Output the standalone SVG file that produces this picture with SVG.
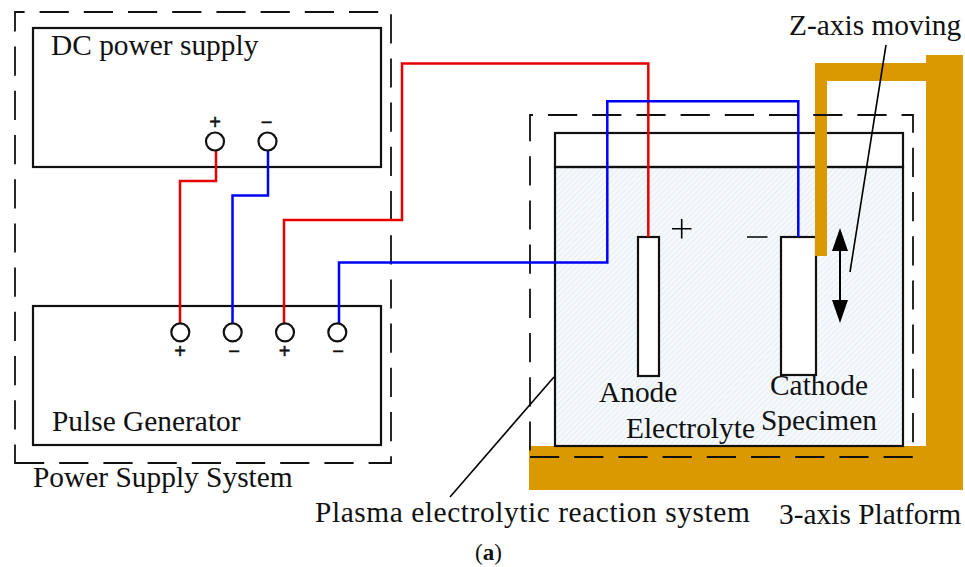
<svg xmlns="http://www.w3.org/2000/svg" width="965" height="567" viewBox="0 0 965 567">
<defs>
<pattern id="hatch" width="4" height="4" patternUnits="userSpaceOnUse" patternTransform="rotate(45)">
<rect width="4" height="4" fill="#f6f9fc"/><line x1="0" y1="0" x2="0" y2="4" stroke="#d8e5f2" stroke-width="1.2"/>
</pattern>
</defs>
<style>
.b{fill:none;stroke:#111;stroke-width:2.2}
.d{fill:none;stroke:#111;stroke-width:1.8;stroke-dasharray:29.200 15}
.r{fill:none;stroke:#e60000;stroke-width:2.500}
.u{fill:none;stroke:#0000f5;stroke-width:2.500}
.c{fill:#fff;stroke:#111;stroke-width:2.200}
.g{fill:#db9900}
.l{fill:none;stroke:#000;stroke-width:1.600}
text{font-family:"Liberation Serif",serif;font-size:29.400px;fill:#111}
.s{font-family:"Liberation Sans",sans-serif;font-size:20px;text-anchor:middle;stroke:#111;stroke-width:.5}
</style>
<g id="platform"><path class="g" d="M529 446H926V55H963V490H529z"/></g>
<g id="dc-power-supply"><rect class="b" x="33" y="28" width="348" height="139"/><text x="51" y="55">DC power supply</text></g>
<g id="pulse-generator"><rect class="b" x="33" y="306" width="348" height="139"/><text x="52" y="431">Pulse Generator</text></g>
<g id="tank">
<rect x="555" y="167" width="348" height="279" fill="url(#hatch)"/>
<rect class="b" x="555" y="133" width="348" height="34"/>
<rect class="b" x="555" y="167" width="348" height="279"/>
</g>
<g id="anode"><rect class="c" x="638" y="237" width="21" height="139"/><text x="599" y="402">Anode</text></g>
<g id="cathode"><rect class="c" x="781" y="237" width="35" height="138"/><text x="770" y="395">Cathode</text><text x="761" y="430">Specimen</text></g>
<g id="z-axis-arm"><path class="g" d="M815 63H926V81H827V256H815z"/></g>
<g id="electrolyte"><text x="626" y="438">Electrolyte</text></g>
<g id="power-supply-system"><path class="d" d="M15 463H391V12H15Z"/><text x="33" y="487">Power Supply System</text></g>
<g id="reaction-system"><path class="d" d="M530 457H913V115H530Z"/></g>
<g id="connectors">
<path class="r" d="M216 150V181H180V324"/>
<path class="u" d="M268 150V195.500H232.500V324"/>
<path class="r" d="M284 324V220H402V63.500H648.300V237"/>
<path class="u" d="M339 324V262.500H607.300V101.300H798.300V237"/>
<path class="l" d="M886 45L850 272"/>
<path class="l" d="M554 377L450 497"/>
<path fill="none" stroke="#000" stroke-width="2" d="M840 250V305"/>
<path d="M840 228L848 251H832zM840 323L848 300H832z" fill="#000"/>
</g>
<g id="terminals">
<circle class="c" cx="215" cy="141.500" r="9"/><circle class="c" cx="267.500" cy="141.500" r="9"/>
<circle class="c" cx="180.300" cy="332.300" r="9"/><circle class="c" cx="232.700" cy="332.300" r="9"/><circle class="c" cx="285" cy="332.300" r="9"/><circle class="c" cx="337.300" cy="332.300" r="9"/>
<text class="s" x="215" y="129">+</text><text class="s" x="266.500" y="129">−</text>
<text class="s" x="180" y="358">+</text><text class="s" x="234" y="357.500">−</text><text class="s" x="284.500" y="358">+</text><text class="s" x="338" y="357.500">−</text>
</g>
<g id="polarity"><path class="l" d="M672 228.700H691.500M681.700 219V238.500M747 237H767.500"/></g>
<g id="labels">
<text x="789" y="35">Z-axis moving</text>
<text x="315" y="522" letter-spacing=".57">Plasma electrolytic reaction system</text>
<text x="779" y="524">3-axis Platform</text>
<text x="475" y="560" style="font-size:23px"><tspan>(</tspan><tspan font-weight="bold">a</tspan><tspan>)</tspan></text>
</g>
</svg>
